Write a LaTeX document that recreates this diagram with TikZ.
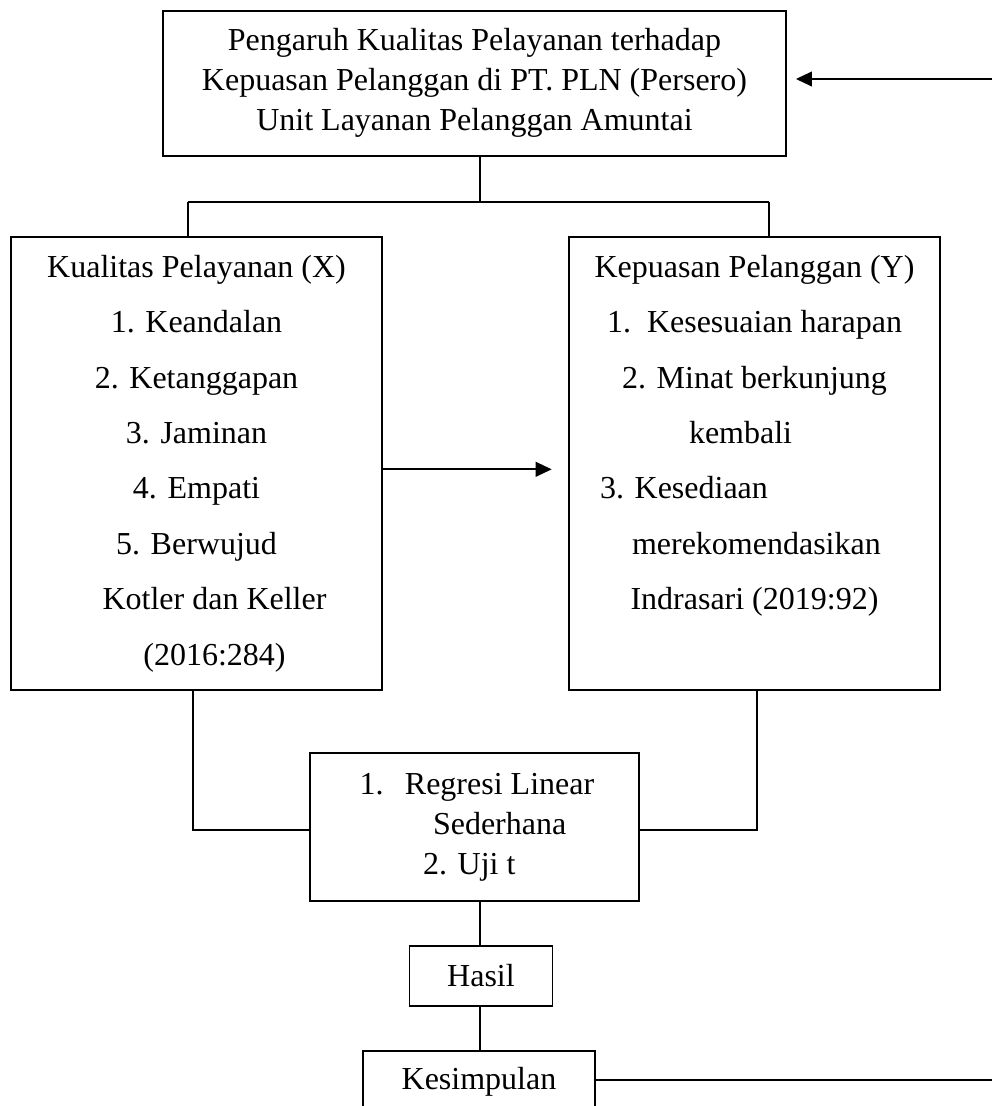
\documentclass[tikz,border=0pt]{standalone}
\usepackage{fontspec}
\setmainfont{Liberation Serif}
\usetikzlibrary{arrows.meta,calc}
\begin{document}
\begin{tikzpicture}[x=0.75pt,y=-0.75pt,
  box/.style={draw=black, line width=1.4pt, inner sep=0pt, align=center, font=\fontsize{24}{30}\selectfont},
  bigbox/.style={box, font=\fontsize{24}{41.6}\selectfont, minimum width=278.25pt, minimum height=339.75pt},
  conn/.style={line width=1.4pt},
  arr/.style={line width=1.4pt, -{Triangle[length=12pt,width=11pt]}}]
\useasboundingbox (0,0) rectangle (992,1106);
\clip (0,0) rectangle (992,1106);
\node[box, minimum width=467.25pt, minimum height=108.75pt] (top) at (474.5,83.3)
  {Pengaruh Kualitas Pelayanan terhadap\\Kepuasan Pelanggan di PT. PLN (Persero)\\Unit Layanan Pelanggan Amuntai};
\node[bigbox] (X) at (196.5,463.5)
  {Kualitas Pelayanan (X)\\1. Keandalan\\2. Ketanggapan\\3. Jaminan\\4. Empati\\5. Berwujud\\\hspace*{27pt}Kotler dan Keller\\\hspace*{27pt}(2016:284)};
\node[bigbox] (Y) at (754.5,463.5)
  {Kepuasan Pelanggan (Y)\\1.\ \ Kesesuaian harapan\\2. Minat berkunjung\\\makebox[278.25pt][l]{\hspace*{90pt}kembali}\\\makebox[278.25pt][l]{\hspace*{23.25pt}3. Kesediaan}\\\makebox[278.25pt][l]{\hspace*{47.25pt}merekomendasikan}\\Indrasari (2019:92)\\\vphantom{()}};
\node[box, minimum width=246.4pt, minimum height=111pt] (M) at (474.3,827)
  {\makebox[246.4pt][l]{\hspace*{37.1pt}\makebox[34.1pt][l]{1.}Regresi Linear}\\\makebox[246.4pt][l]{\hspace*{92.25pt}Sederhana}\\\makebox[246.4pt][l]{\hspace*{84.75pt}2. Uji t}};
\node[box, minimum width=107.25pt, minimum height=45pt] (H) at (481,976) {Hasil};
\node[box, minimum width=174pt, minimum height=46.5pt] (K) at (479,1082) {Kesimpulan};
\coordinate (jt) at (480,202);
\coordinate (jl) at (188,202);
\coordinate (jr) at (769.3,202);
\coordinate (bl) at (193,830);
\coordinate (br) at (757,830);
\coordinate (cx) at (480,0);
\coordinate (a1) at (551.7,469.3);
\coordinate (re) at (992,79);
\coordinate (re2) at (992,1080);
\draw[conn] (top.south -| jt) -- (jt);
\draw[conn] (jl) -- (jr);
\draw[conn] (jl) -- (jl |- X.north);
\draw[conn] (jr) -- (jr |- Y.north);
\draw[conn] (bl |- X.south) -- (bl) -- (M.west |- bl);
\draw[conn] (br |- Y.south) -- (br) -- (M.east |- br);
\draw[conn] (M.south -| cx) -- (H.north -| cx);
\draw[conn] (H.south -| cx) -- (K.north -| cx);
\draw[arr] (X.east |- a1) -- (a1);
\draw[arr] (re) -- ([xshift=6.75pt]top.east |- re);
\draw[conn] (K.east |- re2) -- (re2);
\end{tikzpicture}
\end{document}
